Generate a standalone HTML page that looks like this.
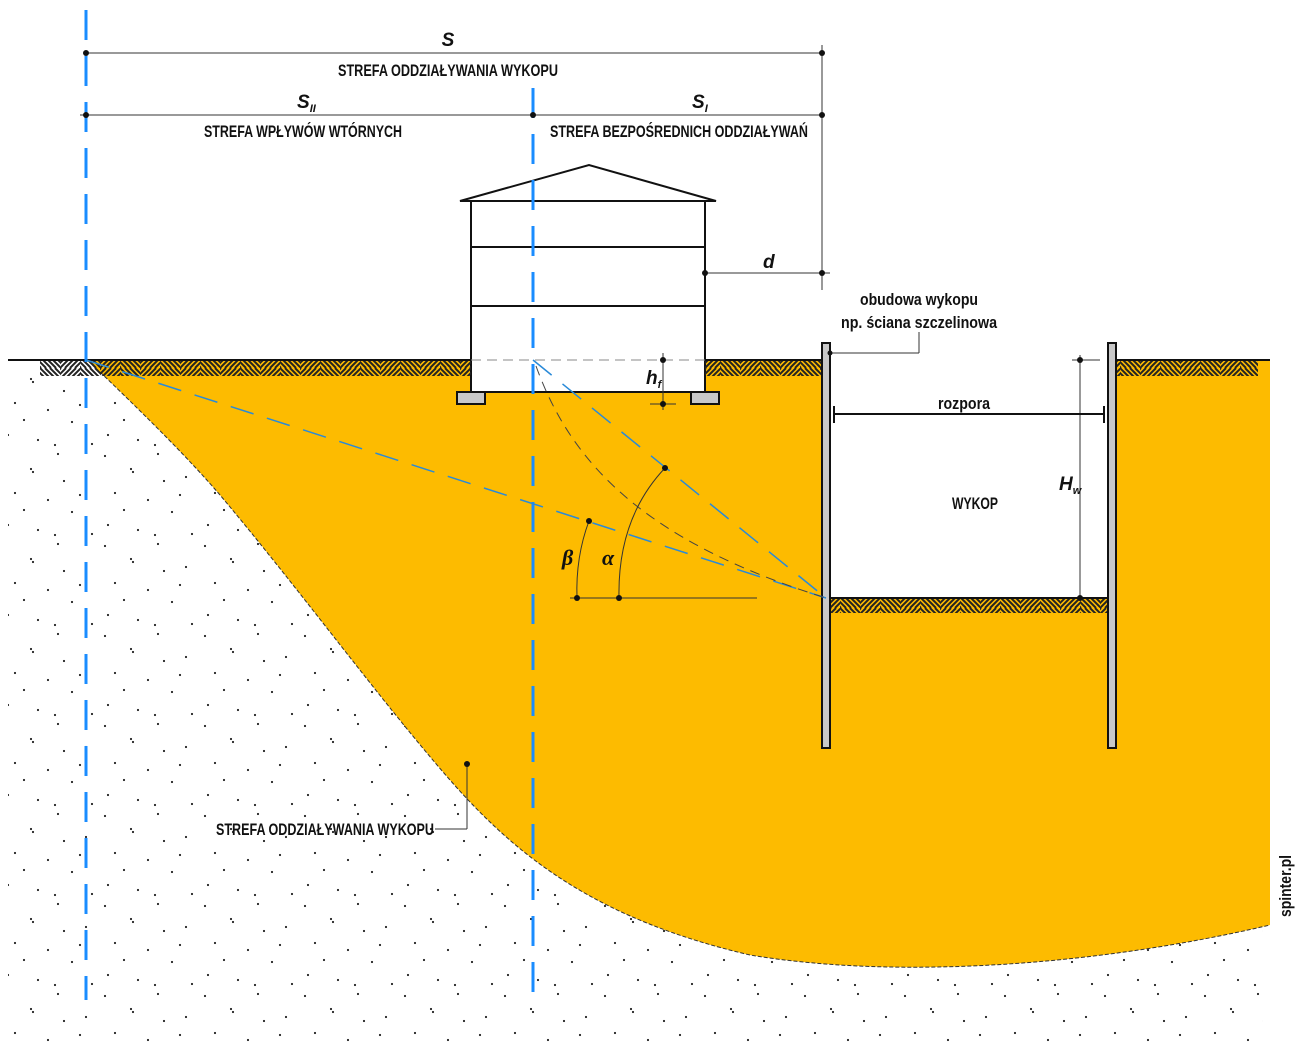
<!DOCTYPE html>
<html><head><meta charset="utf-8"><style>
html,body{margin:0;padding:0;background:#fff;}
svg{display:block}
text{font-family:"Liberation Sans Narrow","Liberation Sans",sans-serif;font-weight:bold;fill:#111;}
</style></head><body>
<svg width="1300" height="1045" viewBox="0 0 1300 1045" xmlns="http://www.w3.org/2000/svg">
<defs>
<pattern id="dots" width="100" height="90" patternUnits="userSpaceOnUse">
<g fill="#222">
<circle cx="5" cy="6" r="1.1"/><circle cx="31" cy="19" r="1.1"/><circle cx="33" cy="22" r="1.1"/>
<circle cx="58" cy="4" r="1.1"/><circle cx="86" cy="27" r="1.1"/><circle cx="15" cy="43" r="1.1"/>
<circle cx="48" cy="50" r="1.1"/><circle cx="8" cy="75" r="1.1"/><circle cx="72" cy="62" r="1.1"/>
<circle cx="38" cy="80" r="1.1"/><circle cx="64" cy="31" r="1.1"/><circle cx="92" cy="84" r="1.1"/>
<circle cx="55" cy="85" r="1.1"/><circle cx="24" cy="60" r="1.1"/><circle cx="80" cy="45" r="1.1"/>
</g>
</pattern>
<pattern id="hatch" width="40" height="16" patternUnits="userSpaceOnUse">
<svg x="0" y="0" width="20" height="16" overflow="hidden">
<g stroke="#222" stroke-width="2">
<line x1="-15" y1="0" x2="1" y2="16"/><line x1="-10" y1="0" x2="6" y2="16"/><line x1="-5" y1="0" x2="11" y2="16"/><line x1="0" y1="0" x2="16" y2="16"/><line x1="5" y1="0" x2="21" y2="16"/><line x1="10" y1="0" x2="26" y2="16"/><line x1="15" y1="0" x2="31" y2="16"/>
</g></svg>
<svg x="20" y="0" width="20" height="16" overflow="hidden">
<g stroke="#222" stroke-width="2">
<line x1="-15" y1="16" x2="1" y2="0"/><line x1="-10" y1="16" x2="6" y2="0"/><line x1="-5" y1="16" x2="11" y2="0"/><line x1="0" y1="16" x2="16" y2="0"/><line x1="5" y1="16" x2="21" y2="0"/><line x1="10" y1="16" x2="26" y2="0"/><line x1="15" y1="16" x2="31" y2="0"/>
</g></svg>
</pattern>
</defs>
<rect x="8" y="376" width="1255" height="669" fill="url(#dots)"/>
<path d="M86,360 L100,372 C150,420 190,460 220,495 C300,590 380,700 450,780 C520,860 600,920 750,955 C900,980 1100,965 1270,925 L1270,360 Z" fill="#FDBB00"/>
<path d="M100,372 C150,420 190,460 220,495 C300,590 380,700 450,780 C520,860 600,920 750,955 C900,980 1100,965 1270,925" fill="none" stroke="#333" stroke-width="1" stroke-dasharray="4,2"/>
<rect x="830" y="360" width="278" height="238" fill="#fff"/>
<rect x="471" y="201" width="234" height="191" fill="#fff" stroke="#111" stroke-width="2"/>
<line x1="471" y1="247" x2="705" y2="247" stroke="#111" stroke-width="2"/>
<line x1="471" y1="306" x2="705" y2="306" stroke="#111" stroke-width="2"/>
<polygon points="460,201 589,165 716,201" fill="#fff" stroke="#111" stroke-width="2"/>
<rect x="457" y="392" width="28" height="12" fill="#c8c8c8" stroke="#111" stroke-width="2"/>
<rect x="691" y="392" width="28" height="12" fill="#c8c8c8" stroke="#111" stroke-width="2"/>
<rect x="40" y="361" width="431" height="15" fill="url(#hatch)"/>
<rect x="705" y="361" width="117" height="15" fill="url(#hatch)"/>
<rect x="1116" y="361" width="142" height="15" fill="url(#hatch)"/>
<rect x="830" y="599" width="278" height="14" fill="url(#hatch)"/>
<line x1="8" y1="360" x2="471" y2="360" stroke="#111" stroke-width="2"/>
<line x1="705" y1="360" x2="822" y2="360" stroke="#111" stroke-width="2"/>
<line x1="1116" y1="360" x2="1270" y2="360" stroke="#111" stroke-width="2"/>
<line x1="830" y1="598" x2="1108" y2="598" stroke="#111" stroke-width="2"/>
<line x1="471" y1="360" x2="705" y2="360" stroke="#888" stroke-width="1" stroke-dasharray="10,6"/>
<rect x="822" y="343" width="8" height="405" fill="#c8c8c8" stroke="#111" stroke-width="2"/>
<rect x="1108" y="343" width="8" height="405" fill="#c8c8c8" stroke="#111" stroke-width="2"/>
<line x1="86" y1="10" x2="86" y2="1000" stroke="#1a8cff" stroke-width="3" stroke-dasharray="30,16"/>
<line x1="533" y1="88" x2="533" y2="1000" stroke="#1a8cff" stroke-width="3" stroke-dasharray="30,16"/>
<line x1="86" y1="360" x2="826" y2="598" stroke="#2a8ad8" stroke-width="1.5" stroke-dasharray="24,14"/>
<line x1="533" y1="360" x2="826" y2="598" stroke="#2a8ad8" stroke-width="1.5" stroke-dasharray="24,14"/>
<path d="M536,366 C570,460 640,540 826,598" fill="none" stroke="#444" stroke-width="1" stroke-dasharray="10,7"/>
<line x1="570" y1="598" x2="757" y2="598" stroke="#333" stroke-width="1"/>
<path d="M619,598 C618,550 630,505 665,468" fill="none" stroke="#333" stroke-width="1"/>
<path d="M577,598 C576,570 580,545 589,521" fill="none" stroke="#333" stroke-width="1"/>
<g fill="#111"><circle cx="619" cy="598" r="3"/><circle cx="577" cy="598" r="3"/><circle cx="665" cy="468" r="3"/><circle cx="589" cy="521" r="3"/></g>
<text x="562" y="565" font-size="22" font-style="italic" font-weight="normal" style="font-family:'Liberation Serif',serif">β</text>
<text x="602" y="565" font-size="22" font-style="italic" font-weight="normal" style="font-family:'Liberation Serif',serif">α</text>
<g stroke="#333" stroke-width="1">
<line x1="86" y1="53" x2="822" y2="53"/>
<line x1="80" y1="115" x2="822" y2="115"/>
<line x1="822" y1="45" x2="822" y2="290"/>
<line x1="705" y1="273" x2="830" y2="273"/>
<line x1="663" y1="353" x2="663" y2="410"/>
<line x1="650" y1="404" x2="676" y2="404"/>
<line x1="830" y1="353" x2="919" y2="353"/><line x1="919" y1="353" x2="919" y2="332"/>
<line x1="1080" y1="355" x2="1080" y2="598"/><line x1="1072" y1="360" x2="1100" y2="360"/>
<line x1="467" y1="764" x2="467" y2="829"/><line x1="435" y1="829" x2="467" y2="829"/>
</g>
<g stroke="#111" stroke-width="2"><line x1="834" y1="414" x2="1104" y2="414"/><line x1="834" y1="406" x2="834" y2="423"/><line x1="1104" y1="406" x2="1104" y2="423"/></g>
<g fill="#111"><circle cx="86" cy="53" r="3"/><circle cx="822" cy="53" r="3"/><circle cx="86" cy="115" r="3"/><circle cx="533" cy="115" r="3"/><circle cx="822" cy="115" r="3"/><circle cx="705" cy="273" r="3"/><circle cx="822" cy="273" r="3"/><circle cx="663" cy="360" r="3"/><circle cx="663" cy="404" r="3"/><circle cx="830" cy="353" r="2.5"/><circle cx="1080" cy="360" r="3"/><circle cx="1080" cy="598" r="3"/><circle cx="467" cy="764" r="3"/></g>
<text x="448" y="46" font-size="19" font-style="italic" text-anchor="middle">S</text>
<text x="448" y="76" font-size="17" text-anchor="middle" textLength="220" lengthAdjust="spacingAndGlyphs">STREFA ODDZIAŁYWANIA WYKOPU</text>
<text x="297" y="108" font-size="19" font-style="italic">S<tspan font-size="11" dy="4">II</tspan></text>
<text x="692" y="108" font-size="19" font-style="italic">S<tspan font-size="11" dy="4">I</tspan></text>
<text x="303" y="137" font-size="17" text-anchor="middle" textLength="198" lengthAdjust="spacingAndGlyphs">STREFA WPŁYWÓW WTÓRNYCH</text>
<text x="679" y="137" font-size="17" text-anchor="middle" textLength="258" lengthAdjust="spacingAndGlyphs">STREFA BEZPOŚREDNICH ODDZIAŁYWAŃ</text>
<text x="763" y="268" font-size="19" font-style="italic">d</text>
<text x="646" y="384" font-size="19" font-style="italic">h<tspan font-size="11" dy="4">f</tspan></text>
<text x="919" y="305" font-size="17" text-anchor="middle" textLength="118" lengthAdjust="spacingAndGlyphs">obudowa wykopu</text>
<text x="919" y="328" font-size="17" text-anchor="middle" textLength="156" lengthAdjust="spacingAndGlyphs">np. ściana szczelinowa</text>
<text x="964" y="409" font-size="17" text-anchor="middle" textLength="52" lengthAdjust="spacingAndGlyphs">rozpora</text>
<text x="975" y="509" font-size="17" text-anchor="middle" textLength="46" lengthAdjust="spacingAndGlyphs">WYKOP</text>
<text x="1059" y="490" font-size="19" font-style="italic">H<tspan font-size="11" dy="4">w</tspan></text>
<text x="325" y="835" font-size="17" text-anchor="middle" textLength="218" lengthAdjust="spacingAndGlyphs">STREFA ODDZIAŁYWANIA WYKOPU</text>
<text transform="translate(1291,917) rotate(-90)" font-size="17" textLength="62" lengthAdjust="spacingAndGlyphs">spinter.pl</text>
</svg>
</body></html>
